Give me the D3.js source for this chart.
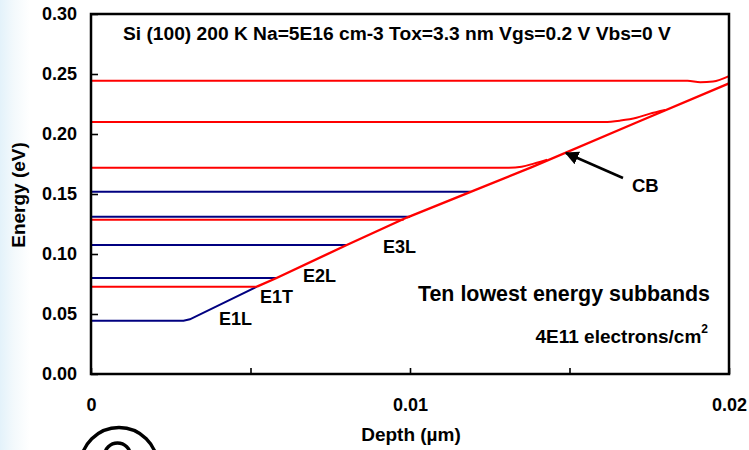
<!DOCTYPE html>
<html>
<head>
<meta charset="utf-8">
<script src="https://cdn.jsdelivr.net/npm/d3@7"></script>
<style>
  body { margin: 0; background: #fff; }
  svg { display: block; }
  text { font-family: "Liberation Sans", Arial, Helvetica, sans-serif; font-weight: bold; fill: #000; }
</style>
</head>
<body>
<svg id="chart" width="749" height="450"></svg>
<script>
// Axis ticks
const depthTicks = [0, 0.005, 0.01, 0.015, 0.02];
const depthLabels = [0, 0.01, 0.02];
const energyTicks = [0, 0.05, 0.10, 0.15, 0.20, 0.25, 0.30];

// Longitudinal-valley subbands (depth in um, energy in eV)
const E1L = [[0, 0.0444], [0.0029, 0.0444], [0.0031, 0.0456], [0.0052, 0.0728]];
const E2L = [[0, 0.0800], [0.0058, 0.0800]];
const E3L = [[0, 0.1075], [0.0080, 0.1075]];
const E4L = [[0, 0.1311], [0.0100, 0.1311]];
const E5L = [[0, 0.1519], [0.0119, 0.1519]];

// Transverse-valley subbands
const E1T = [[0, 0.0728], [0.0052, 0.0728]];
const E2T = [[0, 0.1286], [0.0098, 0.1286]];
const E3T = [[0, 0.1719], [0.0131, 0.1719], [0.0135, 0.1728], [0.0139, 0.1755], [0.0143, 0.1785]];
const E4T = [[0, 0.2100], [0.0161, 0.2100], [0.0166, 0.2112], [0.0171, 0.2135], [0.0175, 0.2168], [0.0180, 0.2200]];
const E5T = [[0, 0.2444], [0.0187, 0.2444], [0.0191, 0.2432], [0.0195, 0.2438], [0.0200, 0.2483]];

// Conduction band edge
const CB = [[0.0052, 0.0728], [0.0058, 0.0798], [0.0080, 0.1073], [0.0099, 0.1304], [0.0119, 0.1518],
            [0.0138, 0.1721], [0.0171, 0.2096], [0.0200, 0.2422]];

const longitudinal = [E1L, E2L, E3L, E4L, E5L];
const transverse = [E1T, E2T, E3T, E4T, E5T];

const svg = d3.select("#chart");
const W = 749, H = 450;
const m = { left: 91, right: 729, top: 14, bottom: 374 };

// faint tinted strip along the left edge
const defs = svg.append("defs");
const grad = defs.append("linearGradient").attr("id", "edge").attr("x1", 0).attr("x2", 1).attr("y1", 0).attr("y2", 0);
grad.append("stop").attr("offset", "0%").attr("stop-color", "#e3f2fa");
grad.append("stop").attr("offset", "45%").attr("stop-color", "#f3f9fc");
grad.append("stop").attr("offset", "100%").attr("stop-color", "#ffffff");
svg.append("rect").attr("width", W).attr("height", H).attr("fill", "#fff");
svg.append("rect").attr("width", 30).attr("height", H).attr("fill", "url(#edge)");

const x = d3.scaleLinear().domain([0, 0.02]).range([m.left, m.right]);
const y = d3.scaleLinear().domain([0, 0.30]).range([m.bottom, m.top]);

const smooth = d3.line().x(d => x(d[0])).y(d => y(d[1])).curve(d3.curveMonotoneX);
const straight = d3.line().x(d => x(d[0])).y(d => y(d[1]));

const plot = svg.append("g");
plot.selectAll("path.lng").data(longitudinal).join("path")
  .attr("class", "lng").attr("d", straight)
  .attr("fill", "none").attr("stroke", "#000080").attr("stroke-width", 2);
plot.selectAll("path.trn").data(transverse).join("path")
  .attr("class", "trn").attr("d", smooth)
  .attr("fill", "none").attr("stroke", "#ff0000").attr("stroke-width", 2);
plot.append("path").datum(CB).attr("d", straight)
  .attr("fill", "none").attr("stroke", "#ff0000").attr("stroke-width", 2.4)
  .attr("stroke-linejoin", "round");

// frame
svg.append("rect")
  .attr("x", m.left).attr("y", m.top)
  .attr("width", m.right - m.left).attr("height", m.bottom - m.top)
  .attr("fill", "none").attr("stroke", "#000").attr("stroke-width", 2.5);

// x axis: inward ticks, then labels
const xTicks = svg.append("g").attr("transform", `translate(0,${m.bottom})`)
  .call(d3.axisBottom(x).tickValues(depthTicks).tickSizeInner(-6).tickSizeOuter(0).tickFormat(""));
xTicks.select(".domain").remove();
xTicks.selectAll("line").attr("stroke", "#000").attr("stroke-width", 1.6);

const xLab = svg.append("g").attr("transform", `translate(0,${m.bottom})`)
  .call(d3.axisBottom(x).tickValues(depthLabels).tickSize(0).tickPadding(24)
    .tickFormat(d => d === 0 ? "0" : d3.format(".2f")(d)));
xLab.select(".domain").remove();
xLab.selectAll("text").attr("font-size", 18).attr("font-family", null).attr("fill", "#000");

// y axis
const yAx = svg.append("g").attr("transform", `translate(${m.left},0)`)
  .call(d3.axisLeft(y).tickValues(energyTicks).tickSizeInner(-7).tickSizeOuter(0).tickPadding(14)
    .tickFormat(d3.format(".2f")));
yAx.select(".domain").remove();
yAx.selectAll("line").attr("stroke", "#000").attr("stroke-width", 1.6);
yAx.selectAll("text").attr("font-size", 18).attr("font-family", null).attr("fill", "#000");

// axis titles
svg.append("text").attr("x", 411).attr("y", 441).attr("text-anchor", "middle")
  .attr("font-size", 19).text("Depth (µm)");
svg.append("text").attr("transform", "translate(25,195) rotate(-90)").attr("text-anchor", "middle")
  .attr("font-size", 19).text("Energy (eV)");

// annotations
svg.append("text").attr("x", 123).attr("y", 40).attr("font-size", 19.2)
  .text("Si (100) 200 K Na=5E16 cm-3 Tox=3.3 nm Vgs=0.2 V Vbs=0 V");
svg.append("text").attr("x", 418).attr("y", 301).attr("font-size", 21.4)
  .text("Ten lowest energy subbands");
const dens = svg.append("text").attr("x", 708).attr("y", 343).attr("text-anchor", "end").attr("font-size", 19);
dens.append("tspan").text("4E11 electrons/cm");
dens.append("tspan").attr("font-size", 12).attr("dy", -10).text("2");

const bandLabels = [["E1L", 219, 325], ["E1T", 260, 303], ["E2L", 303, 281.5], ["E3L", 383, 253]];
svg.selectAll("text.band").data(bandLabels).join("text").attr("class", "band")
  .attr("x", d => d[1]).attr("y", d => d[2]).attr("font-size", 18).text(d => d[0]);

svg.append("text").attr("x", 632).attr("y", 192).attr("font-size", 18.5).text("CB");
defs.append("marker").attr("id", "head").attr("viewBox", "0 0 10 10").attr("refX", 9).attr("refY", 5)
  .attr("markerWidth", 5.5).attr("markerHeight", 5.5).attr("orient", "auto")
  .append("path").attr("d", "M0,0 L10,5 L0,10 z").attr("fill", "#000");
svg.append("line").attr("x1", 623).attr("y1", 178).attr("x2", 566).attr("y2", 153)
  .attr("stroke", "#000").attr("stroke-width", 2.5).attr("marker-end", "url(#head)");

// copyright mark at the lower left
svg.append("circle").attr("cx", 119).attr("cy", 466).attr("r", 38.5)
  .attr("fill", "none").attr("stroke", "#000").attr("stroke-width", 3.4);
svg.append("circle").attr("cx", 117.5).attr("cy", 456).attr("r", 13)
  .attr("fill", "none").attr("stroke", "#000").attr("stroke-width", 3.4);
</script>
</body>
</html>
